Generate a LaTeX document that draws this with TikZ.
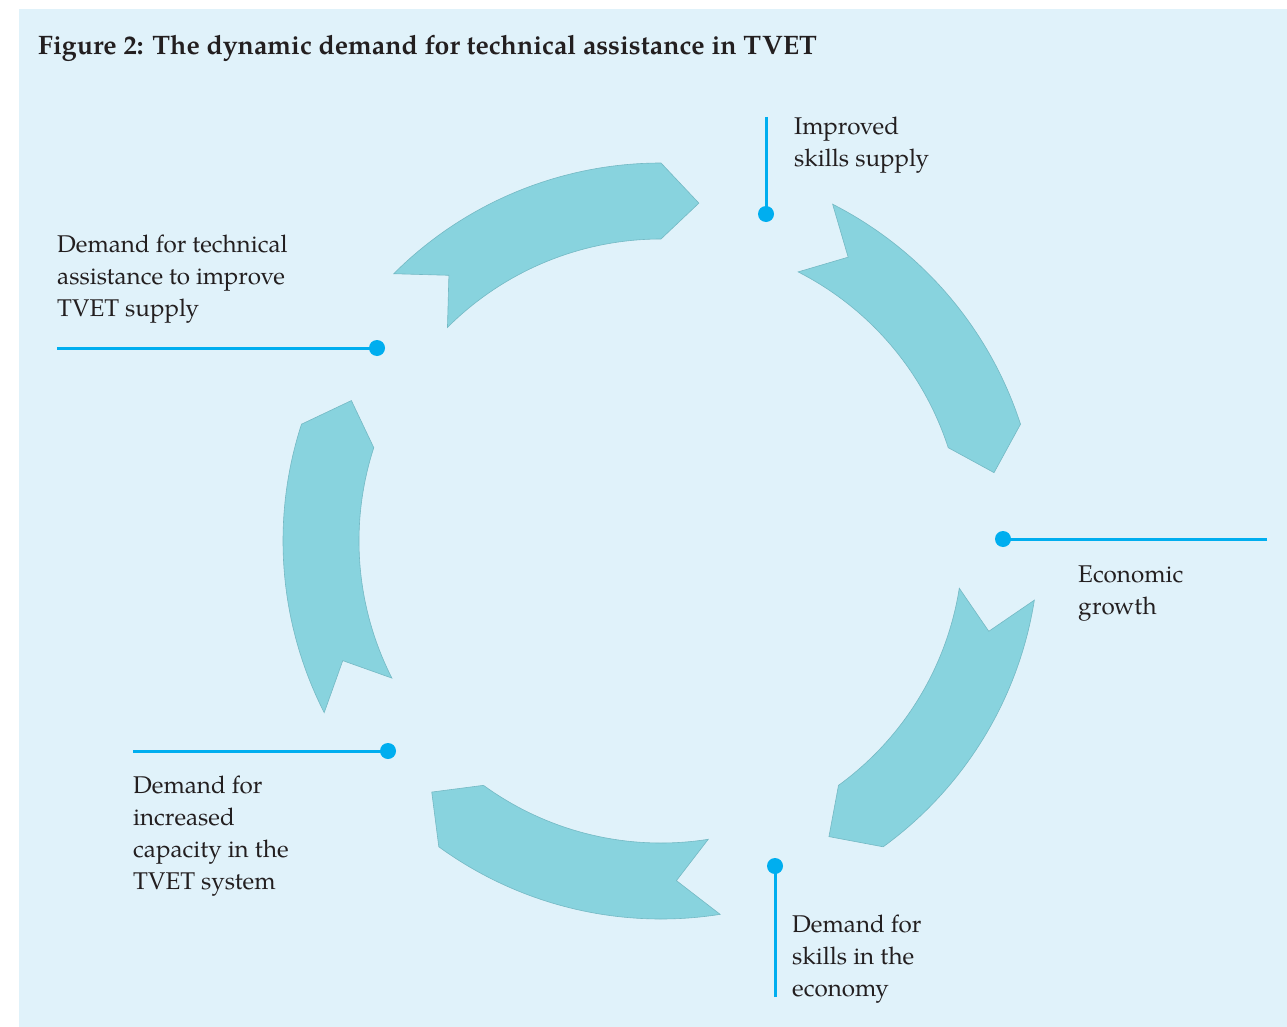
\documentclass[tikz,border=0pt]{standalone}
\usepackage{fontspec}
\setmainfont{TeX Gyre Pagella}
\usetikzlibrary{calc}
\definecolor{bgblue}{HTML}{E0F2FA}
\definecolor{arrowfill}{HTML}{88D3DE}
\definecolor{arrowedge}{HTML}{74B9C4}
\definecolor{linkcyan}{HTML}{00AEEF}
\definecolor{txt}{HTML}{231F20}
\begin{document}
\begin{tikzpicture}[x=1pt,y=1pt,
  cyclearrow/.style={fill=arrowfill, draw=arrowedge, line width=0.6pt, line join=miter},
  leader/.style={draw=linkcyan, line width=3pt},
  dotmark/.style={fill=linkcyan},
  lbl/.style={anchor=base west, inner sep=0pt, text=txt, font=\fontsize{24.2}{32}\selectfont}]
\useasboundingbox (0,0) rectangle (1287,-1027);
\fill[bgblue] (19,-9) rectangle (1287,-1027);
\node[anchor=base west, inner sep=0pt, text=txt, font=\fontsize{26.7}{32}\selectfont\bfseries] (title) at (38,-55)
  {Figure 2: The dynamic demand for technical assistance in TVET};
\coordinate (c) at (661,-541);
\foreach \s [evaluate=\s as \e using {\s+45}] in {225,297,9,81,153}{
  \draw[cyclearrow] ($(c)+({-\s}:378)$) arc[start angle={-\s}, end angle={-\e}, radius=378]
    -- ($(c)+({-\e-6.4}:340)$) -- ($(c)+({-\e}:302)$)
    arc[start angle={-\e}, end angle={-\s}, radius=302]
    -- ($(c)+({-\s-6.4}:340)$) -- cycle;
}
% leader lines
\coordinate (e1) at (766,-117);  \coordinate (d1) at (766,-214);
\coordinate (e2) at (57,-348);   \coordinate (d2) at (377,-348);
\coordinate (d3) at (1003,-539); \coordinate (e3) at (1267,-539);
\coordinate (e4) at (133,-751);  \coordinate (d4) at (388,-751);
\coordinate (d5) at (775,-866);  \coordinate (e5) at (775,-997);
\foreach \i in {1,...,5}{
  \draw[leader] (e\i) -- (d\i);
  \fill[dotmark] (d\i) circle (8);
}
% labels
\node[lbl] (l1) at (794,-135) {\begin{tabular}[t]{@{}l@{}}Improved\\skills supply\end{tabular}};
\node[lbl] (l2) at (57,-252) {\begin{tabular}[t]{@{}l@{}}Demand for technical\\assistance to improve\\TVET supply\end{tabular}};
\node[lbl] (l3) at (1078,-582) {\begin{tabular}[t]{@{}l@{}}Economic\\growth\end{tabular}};
\node[lbl] (l4) at (133,-793) {\begin{tabular}[t]{@{}l@{}}Demand for\\increased\\capacity in the\\TVET system\end{tabular}};
\node[lbl] (l5) at (792,-932) {\begin{tabular}[t]{@{}l@{}}Demand for\\skills in the\\economy\end{tabular}};
\end{tikzpicture}
\end{document}
